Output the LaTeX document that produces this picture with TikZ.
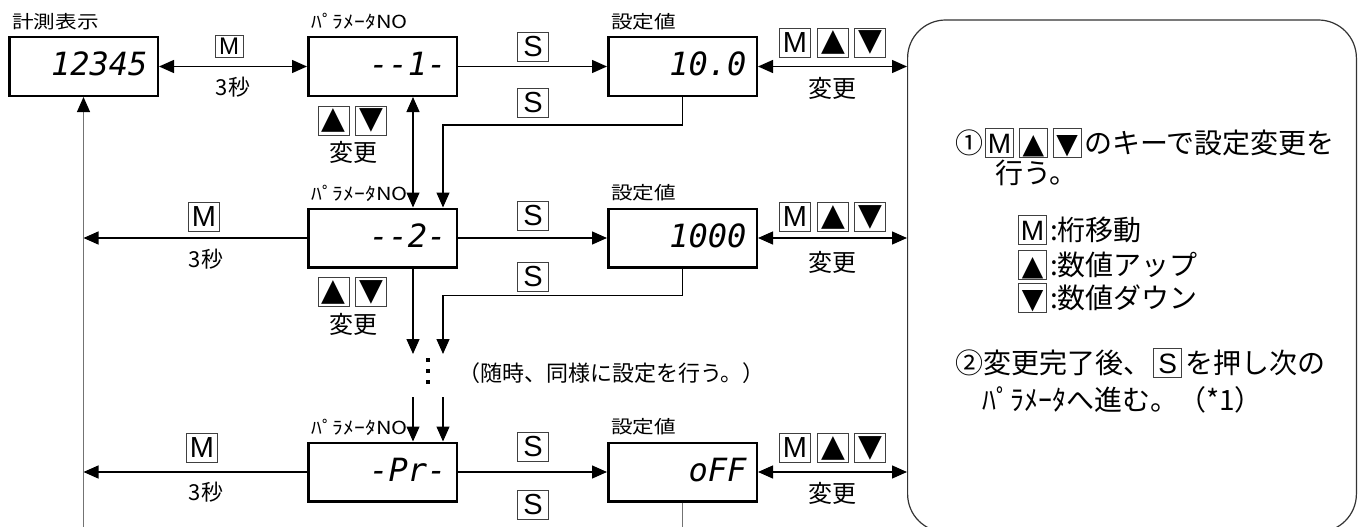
\documentclass[tikz,border=0pt]{standalone}
\usepackage{fontspec}
\setmainfont{Noto Sans CJK JP}
\newfontfamily\jpwide{Noto Sans CJK JP}[FakeStretch=1.2]
\newfontfamily\keyfont{Liberation Sans}
\newfontfamily\symfont{DejaVu Sans}
\newfontfamily\segfont{DejaVu Sans Mono}
\usetikzlibrary{arrows.meta,positioning}

% inline key box for the note text
\newcommand\kb[2][\keyfont]{\hspace{2pt}{\setlength\fboxsep{0pt}\setlength\fboxrule{0.9pt}%
  \fcolorbox{black!75}{white}{\makebox[27pt]{\rule[-4pt]{0pt}{28pt}#1\fontsize{28}{28}\selectfont#2}}}\hspace{3pt}}

\begin{document}
\begin{tikzpicture}[x=1pt, y=-1pt,
        >={Triangle[length=15pt,width=13pt]},
        disp/.style={draw, line width=2.5pt, minimum width=148.5pt, minimum height=58.5pt,
          text width=128pt, align=right, inner xsep=10pt, inner ysep=0pt,
          text height=24pt, text depth=6pt, font=\segfont\itshape\fontsize{32}{32}\selectfont},
        lbl/.style={font=\jpwide\fontsize{18}{18}\selectfont, inner sep=0pt,
          anchor=south west, xshift=4pt, yshift=6pt},
        key/.style={draw=black!75, line width=0.9pt, minimum width=31pt, minimum height=29pt,
          inner sep=0pt, font=\keyfont\fontsize{29}{29}\selectfont},
        tri/.style={key, font=\symfont\fontsize{31}{31}\selectfont},
        txt/.style={inner sep=0pt, font=\fontsize{24}{24}\selectfont},
        sec/.style={inner sep=0pt, font=\fontsize{22}{22}\selectfont},
        cmt/.style={inner sep=0pt, anchor=west, font=\fontsize{22}{22}\selectfont},
        note/.style={inner sep=0pt, anchor=west, font=\fontsize{28}{28}\selectfont},
        ln/.style={line width=1.3pt},
        thin/.style={line width=1pt, draw=black!55},
        up/.style={thin, -{Triangle[length=15pt,width=13pt,black]}},
        dotsq/.style={fill, inner sep=0pt, minimum size=4pt}
      ]
      \useasboundingbox (0,0) rectangle (1360,527);

      % displays
      \node[disp] (b1) at (83.5,66.5) {12345};
      \node[disp] (p1) at (382.5,66.5) {-\kern0pt-1-};
      \node[disp] (v1) at (682.5,66.5) {10.0};
      \node[disp] (p2) at (382.5,238) {-\kern0pt-2-};
      \node[disp] (v2) at (682.5,238) {1000};
      \node[disp] (p3) at (382.5,472) {-Pr-};
      \node[disp] (v3) at (682.5,472) {oFF};
      \foreach \b/\t in {b1/計測表示, p1/ﾊﾟﾗﾒｰﾀNO, v1/設定値, p2/ﾊﾟﾗﾒｰﾀNO,
          v2/設定値, p3/ﾊﾟﾗﾒｰﾀNO, v3/設定値} {
        \node[lbl] (l\b) at (\b.north west) {\t};
      }

      % note box
      \node[draw=black!80, line width=1.2pt, rounded corners=38pt, minimum width=448.8pt,
        minimum height=512pt, inner sep=0pt] (nb) at (1132,276) {};

      % keys
      \node[key, minimum width=28pt, minimum height=22pt,
        font=\keyfont\fontsize{24}{24}\selectfont] (m1) at (229,46.5) {M};
      \node[sec] (s1) at (233,87) {3秒};
      \node[key] (m2) at (204,216.5) {M};
      \node[sec] (s2) at (206,259) {3秒};
      \node[key] (m3) at (202,448) {M};
      \node[sec] (s3) at (206,492) {3秒};
      \foreach \y/\z [count=\i] in {47/103, 216/277, 447/505} {
        \node[key] (ka\i) at (533,\y) {S};
        \node[key] (kb\i) at (533,\z) {S};
      }
      \foreach \y/\c [count=\i] in {42.5/88, 217/262, 448/493} {
        \node[key] (rm\i) at (795,\y) {M};
        \node[tri] (ru\i) at (833,\y) {▲};
        \node[tri] (rd\i) at (870,\y) {▼};
        \node[txt] (rc\i) at (832,\c) {変更};
      }
      \foreach \y/\c [count=\i] in {120.5/152, 292/324} {
        \node[tri] (pu\i) at (333.5,\y) {▲};
        \node[tri] (pd\i) at (371,\y) {▼};
        \node[txt] (pc\i) at (353,\c) {変更};
      }

      % columns between the parameter rows
      \coordinate (g1) at (413,354);
      \coordinate (g2) at (443,354);
      \coordinate (h1) at (413,397);
      \coordinate (h2) at (443,397);
      \coordinate (bot) at (0,530);
      \foreach \y [count=\i] in {360,371,382} {
        \node[dotsq] (d\i) at (428,\y) {};
      }
      \node[cmt] (rem) at (458,373) {（随時、同様に設定を行う。）};

      % connectors
      \draw[ln, <->] (b1) -- (p1);
      \draw[ln, ->] (p1) -- (v1);
      \draw[ln, ->] (p2) -- (v2);
      \draw[ln, ->] (p3) -- (v3);
      \foreach \v in {v1,v2,v3} {
        \draw[ln, <->] (\v.east) -- (\v.east -| nb.west);
      }
      \draw[ln, ->] (p2.west) -- (p2.west -| b1.south);
      \draw[ln, ->] (p3.west) -- (p3.west -| b1.south);
      \draw[ln, <->] (p1.south -| g1) -- (p2.north -| g1);
      \draw[ln, ->] (v1.south) -- ++(0,28) -| (p2.north -| g2);
      \draw[ln, ->] (p2.south -| g1) -- (g1);
      \draw[ln, ->] (v2.south) -- ++(0,27) -| (g2);
      \draw[ln, ->] (h1) -- (p3.north -| h1);
      \draw[ln, ->] (h2) -- (p3.north -| h2);
      \draw[up] (b1.south |- bot) -- (b1.south);
      \draw[thin] (v3.south) -- (v3.south |- bot);

      % note text
      \node[note] (n1) at (955,143) {①\kb{M}\kb[\symfont]{▲}\kb[\symfont]{▼}のキーで設定変更を};
      \node[note] (n2) at (995,173) {行う。};
      \node[note] (n3) at (1016,230) {\kb{M}:桁移動};
      \node[note] (n4) at (1016,265) {\kb[\symfont]{▲}:数値アップ};
      \node[note] (n5) at (1016,298) {\kb[\symfont]{▼}:数値ダウン};
      \node[note] (n6) at (955,363) {②変更完了後、\kb{S}を押し次の};
      \node[note] (n7) at (982,400) {ﾊﾟﾗﾒｰﾀへ進む。（*1）};
    \end{tikzpicture}
\end{document}
